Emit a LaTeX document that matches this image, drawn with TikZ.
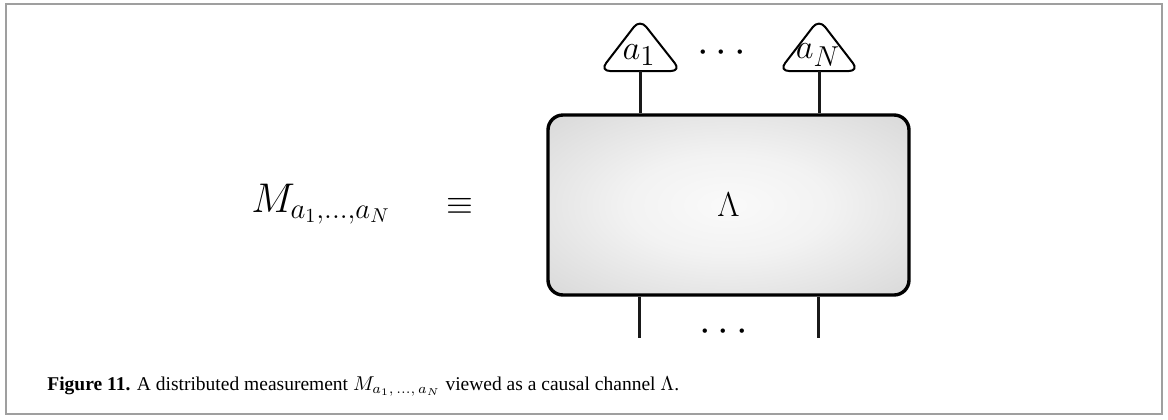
\documentclass[tikz,border=0pt]{standalone}
\usepackage{fontspec}
\usepackage{amsmath}
\usepackage{amssymb}
\newfontfamily\capfont{Liberation Serif}
\pgfdeclareradialshading{chanshade}{\pgfpoint{0bp}{0bp}}{color(0bp)=(black!2); color(14bp)=(black!5); color(40bp)=(black!17); color(50bp)=(black!22); color(72bp)=(black!26)}

\begin{document}
\begin{tikzpicture}[x=0.5pt,y=-0.5pt]
  \tikzstyle{every node}+=[inner sep=0pt]
  \tikzstyle{wire}=[line width=1.5pt, black!90]
  \tikzstyle{meter}=[line width=1pt, rounded corners=5pt, fill=white]
  \tikzstyle{chan}=[draw, line width=1.7pt, rounded corners=7.5pt, shading=chanshade,
    minimum width=180.5pt, minimum height=90pt, font=\fontsize{16}{18}\selectfont]
  \useasboundingbox (0,0) rectangle (1168,419);
  \draw [gray!75, line width=1pt] (6,4) rectangle (1162,414);
  % left hand side
  \node (lhs) at (321,204) {\fontsize{20}{23}\selectfont $M_{a_1,\ldots,a_N}$};
  \node (eq) at (460,206) {\fontsize{19}{22}\selectfont $\equiv$};
  % the channel
  \node [chan] (chan) at (728.5,205) {\raisebox{-2pt}{$\Lambda$}};
  % measurements on top
  \draw [meter] (600,71) -- (640,19) -- (681,71) -- cycle;
  \draw [meter] (779,71) -- (819,19) -- (859,71) -- cycle;
  \node (a1) at (639,55) {\fontsize{19}{22}\selectfont $a_1$};
  \node (aN) at (818,55) {\fontsize{19}{22}\selectfont $a_N$};
  \node (dtop) at (725,53) {\fontsize{22}{24}\selectfont $\cdots$};
  \coordinate (m1) at (640,71);
  \coordinate (mN) at (819,71);
  \draw [wire] (m1) -- (m1 |- chan.north);
  \draw [wire] (mN) -- (mN |- chan.north);
  % inputs below
  \coordinate (i1) at (639,338);
  \coordinate (iN) at (818,338);
  \draw [wire] (i1 |- chan.south) -- (i1);
  \draw [wire] (iN |- chan.south) -- (iN);
  \node (dbot) at (727,332) {\fontsize{22}{24}\selectfont $\cdots$};
  % caption
  \node [anchor=base west] (cap) at (47,390) {\capfont\fontsize{9.75}{11}\selectfont
    \textbf{Figure 11.} A distributed measurement $M_{a_1,\,\ldots,\,a_N}$ viewed as a causal channel $\Lambda$.};
\end{tikzpicture}
\end{document}
